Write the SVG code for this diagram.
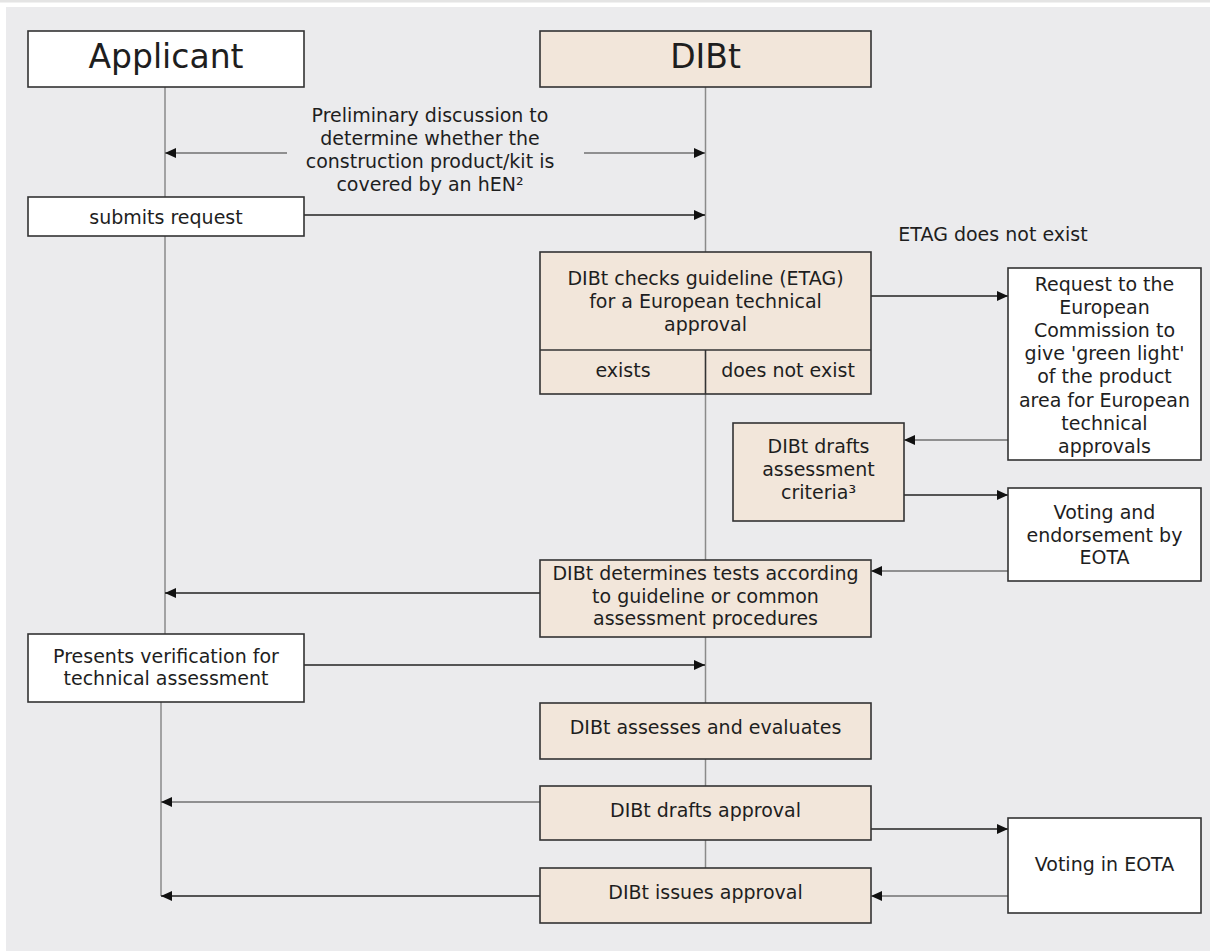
<svg xmlns="http://www.w3.org/2000/svg" width="1210" height="951" viewBox="0 0 1210 951">
<defs>
<style>
.bg{fill:#ffffff}
.panel{fill:#ebebed}
.box{fill:#ffffff;stroke:#333333;stroke-width:1.6}
.dbox{fill:#f2e6da;stroke:#333333;stroke-width:1.6}
.life{stroke:#8a8a8a;stroke-width:1.5;fill:none}
.ca{stroke:#222222;stroke-width:1.6;fill:none;marker-end:url(#ah)}
.cg{stroke:#707070;stroke-width:1.6;fill:none;marker-end:url(#ah)}
text{font-family:"DejaVu Sans",Verdana,sans-serif;font-size:19px;fill:#1e1e1e;text-anchor:middle}
.h{font-size:33px}
</style>
<marker id="ah" markerUnits="userSpaceOnUse" markerWidth="12" markerHeight="11" refX="11" refY="5" orient="auto">
<path d="M0,0 L11,5 L0,10 z" fill="#111111"/>
</marker>
</defs>
<rect class="bg" x="0" y="0" width="1210" height="951"/>
<rect x="0" y="0" width="1210" height="2.5" fill="#e4e4e4"/>
<rect class="panel" x="6" y="7" width="1204" height="944"/>

<g id="lifelines">
<line class="life" x1="165" y1="87" x2="165" y2="634"/>
<line class="life" x1="161" y1="702" x2="161" y2="896"/>
<line class="life" x1="705.5" y1="87" x2="705.5" y2="868"/>
</g>

<g id="connectors">
<line class="cg" x1="287" y1="153" x2="165" y2="153"/>
<line class="cg" x1="584" y1="153" x2="705" y2="153"/>
<line class="ca" x1="304" y1="215" x2="705" y2="215"/>
<line class="ca" x1="871" y1="296" x2="1008" y2="296"/>
<line class="cg" x1="1008" y1="440" x2="904" y2="440"/>
<line class="ca" x1="904" y1="495" x2="1008" y2="495"/>
<line class="cg" x1="1008" y1="571" x2="871" y2="571"/>
<line class="ca" x1="540" y1="593" x2="165" y2="593"/>
<line class="ca" x1="304" y1="665" x2="705" y2="665"/>
<line class="cg" x1="540" y1="802" x2="161" y2="802"/>
<line class="ca" x1="871" y1="829" x2="1008" y2="829"/>
<line class="cg" x1="1008" y1="896" x2="871" y2="896"/>
<line class="ca" x1="540" y1="896" x2="161" y2="896"/>
</g>

<g id="applicant">
<rect class="box" x="28" y="31" width="276" height="56"/>
<text class="h" x="166" y="68">Applicant</text>
</g>
<g id="dibt">
<rect class="dbox" x="540" y="31" width="331" height="56"/>
<text class="h" x="705.5" y="68">DIBt</text>
</g>
<g id="preliminary">
<text x="430" y="122">Preliminary discussion to</text>
<text x="430" y="145">determine whether the</text>
<text x="430" y="168">construction product/kit is</text>
<text x="430" y="191">covered by an hEN²</text>
</g>
<g id="submits">
<rect class="box" x="28" y="197" width="276" height="39"/>
<text x="166" y="224">submits request</text>
</g>
<g id="etag-label">
<text x="993" y="241">ETAG does not exist</text>
</g>
<g id="checks">
<rect class="dbox" x="540" y="252" width="331" height="142"/>
<line x1="540" y1="350" x2="871" y2="350" stroke="#333333" stroke-width="1.6"/>
<line x1="705.5" y1="350" x2="705.5" y2="394" stroke="#333333" stroke-width="1.6"/>
<text x="705.5" y="285">DIBt checks guideline (ETAG)</text>
<text x="705.5" y="308">for a European technical</text>
<text x="705.5" y="331">approval</text>
<text x="623" y="377">exists</text>
<text x="788" y="377">does not exist</text>
</g>
<g id="request">
<rect class="box" x="1008" y="268" width="193" height="192"/>
<text x="1104.5" y="291">Request to the</text>
<text x="1104.5" y="314">European</text>
<text x="1104.5" y="337">Commission to</text>
<text x="1104.5" y="360">give 'green light'</text>
<text x="1104.5" y="383">of the product</text>
<text x="1104.5" y="407">area for European</text>
<text x="1104.5" y="430">technical</text>
<text x="1104.5" y="453">approvals</text>
</g>
<g id="criteria">
<rect class="dbox" x="733" y="423" width="171" height="98"/>
<text x="818.5" y="453">DIBt drafts</text>
<text x="818.5" y="476">assessment</text>
<text x="818.5" y="499">criteria³</text>
</g>
<g id="voting-endorsement">
<rect class="box" x="1008" y="488" width="193" height="93"/>
<text x="1104.5" y="519">Voting and</text>
<text x="1104.5" y="542">endorsement by</text>
<text x="1104.5" y="564">EOTA</text>
</g>
<g id="determines">
<rect class="dbox" x="540" y="560" width="331" height="77"/>
<text x="705.5" y="580">DIBt determines tests according</text>
<text x="705.5" y="603">to guideline or common</text>
<text x="705.5" y="625">assessment procedures</text>
</g>
<g id="presents">
<rect class="box" x="28" y="634" width="276" height="68"/>
<text x="166" y="663">Presents verification for</text>
<text x="166" y="685">technical assessment</text>
</g>
<g id="assesses">
<rect class="dbox" x="540" y="703" width="331" height="56"/>
<text x="705.5" y="734">DIBt assesses and evaluates</text>
</g>
<g id="drafts-approval">
<rect class="dbox" x="540" y="786" width="331" height="54"/>
<text x="705.5" y="817">DIBt drafts approval</text>
</g>
<g id="voting-eota">
<rect class="box" x="1008" y="818" width="193" height="95"/>
<text x="1104.5" y="871">Voting in EOTA</text>
</g>
<g id="issues">
<rect class="dbox" x="540" y="868" width="331" height="55"/>
<text x="705.5" y="899">DIBt issues approval</text>
</g>
</svg>
